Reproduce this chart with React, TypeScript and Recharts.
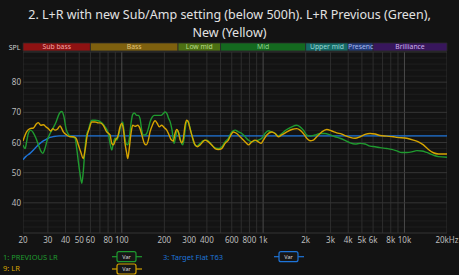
import React from 'react';
import { LineChart, Line, XAxis, YAxis, CartesianGrid, ReferenceArea, ReferenceLine } from 'recharts';

// Previous L+R measurement (green)
const previousFreq = [20, 20.7, 21.2, 21.8, 22.7, 23.6, 24.7, 25.7, 26.7, 27.6, 28.6, 29.7, 31.1, 32.5, 34.3, 36.1, 37.6, 39.0, 40.3, 41.9, 44.2, 46.7, 48.0, 49.3, 50.6, 52.1, 53.4, 54.9, 56.4, 58.0, 61.3, 64.7, 68.2, 72.1, 76.1, 80.3, 82.6, 84.9, 87.1, 89.6, 92.1, 95.6, 98.8, 101.5, 104.2, 107.1, 110.2, 113.1, 116.2, 119.5, 122.6, 127.5, 130.9, 134.6, 138.4, 142, 146, 150.1, 154.1, 158.4, 164.5, 169.9, 181.4, 189.5, 196.8, 202.3, 209, 213.5, 219.5, 226.8, 234.3, 242, 247.2, 254.1, 262.6, 270, 277.1, 284.9, 292.9, 300.6, 312.6, 324.6, 339.2, 357.9, 377.6, 399.1, 421.1, 444.4, 482.3, 509.7, 537.9, 567.6, 599.9, 633.1, 668.1, 706.1, 745.1, 786.3, 831, 877, 925.5, 978.2, 1032, 1089, 1151, 1215, 1282, 1355, 1470, 1595, 1730, 1825, 1926, 2036, 2149, 2332, 2529, 2744, 2977, 3229, 3503, 3800, 4123, 4473, 4853, 5265, 5712, 6197, 6722, 7499, 8136, 8826, 9576, 10389, 11271, 12228, 13266, 14392, 16026, 17388, 20000];
const previousSpl = [59.2, 58, 60.2, 63, 64.1, 63.3, 61.4, 59.2, 57.2, 56.4, 58, 60.8, 63, 64.6, 66.8, 69.6, 70.3, 68.5, 64.6, 62.7, 61.9, 61.4, 58, 53.6, 49.8, 46.5, 50.3, 58, 62.5, 64.1, 67.4, 67.4, 67.2, 66.5, 65.2, 63, 59.7, 57.5, 59.7, 61.4, 60.8, 63, 65.7, 66.8, 63, 59.7, 59.2, 61.4, 66.3, 69.3, 69.8, 69, 69, 67.9, 64.1, 62.5, 62.5, 63, 64.6, 66.8, 68.5, 69, 69, 69, 69.6, 70.1, 69.5, 68.2, 67, 64.1, 59.7, 62.5, 64.1, 63, 60.2, 59.2, 61.9, 66.3, 67.2, 65.7, 62.5, 59.7, 58.8, 59.7, 60.6, 60.8, 59.9, 58.6, 58, 58.6, 60.2, 61.4, 63.5, 64.1, 63.5, 63, 61.9, 60.8, 60.2, 60.6, 60.8, 61.4, 63, 63.9, 63.5, 63, 62.1, 63, 64.3, 65.2, 65.7, 65.2, 64.1, 62.5, 62.1, 62.5, 63, 63, 62.5, 61.9, 61.4, 60.7, 59.9, 59.5, 59.7, 59.5, 58.8, 58.6, 58.3, 58, 57.7, 57.2, 56.7, 56.7, 56.9, 57.3, 57.2, 56.7, 55.8, 55.3, 55.1];

// New L+R measurement (yellow)
const newFreq = [20, 21.2, 22.4, 23.7, 25.0, 25.7, 26.7, 27.9, 29.0, 30.2, 31.4, 32.5, 33.7, 35.0, 36.6, 37.6, 38.6, 40.8, 43.0, 45.4, 47.5, 49.3, 51.2, 53.4, 55.2, 57.0, 58.9, 61.3, 64.7, 68.2, 70.1, 74.0, 78.2, 82.6, 84.9, 87.1, 90.6, 93.6, 97.2, 99.9, 102.5, 105.4, 108.4, 110.2, 112.6, 116.2, 119.5, 124.1, 129.7, 134.6, 139.8, 144.4, 148.5, 154.1, 158.4, 164.5, 171.9, 178.3, 184.2, 191.7, 200, 208, 216, 223.1, 231.6, 238.1, 244.8, 251.3, 258.3, 265.6, 272.7, 280.3, 288, 295.6, 303.9, 317.8, 330, 342.5, 357.9, 374, 388.3, 409.6, 433, 456.9, 482.3, 509.7, 537.9, 567.6, 583.4, 615.6, 650.6, 686.8, 724.6, 766.1, 786.3, 831, 877, 925.5, 967.2, 1004, 1061, 1151, 1215, 1282, 1355, 1470, 1595, 1730, 1825, 1926, 2036, 2149, 2268, 2397, 2600, 2820, 3059, 3319, 3601, 3800, 4123, 4473, 4853, 5265, 5712, 6197, 6722, 7499, 8350, 8873, 10389, 11565, 12545, 13615, 14770, 16026, 17388, 20000];
const newSpl = [60.5, 63.5, 64.6, 64.8, 66.3, 66.6, 65.7, 65.9, 65.2, 64.6, 63.8, 64.6, 64.1, 64.4, 65.5, 64.6, 63.5, 62.5, 61.9, 61.9, 61.4, 59.2, 56.9, 54.7, 58, 62.5, 64.6, 66.8, 66.8, 66.5, 66.5, 65.7, 63.5, 62.5, 59.7, 59.2, 61, 61.9, 65.2, 66.3, 64.6, 59.7, 56.4, 54.7, 57.5, 63, 65.7, 65.4, 65.7, 64.6, 61.9, 59.7, 59.2, 60.8, 63.5, 65.7, 67.2, 66.3, 65.2, 65.7, 64.9, 64.1, 62.5, 61, 60.5, 63, 64.3, 63.5, 61, 59.9, 61.4, 65.7, 67.4, 66.8, 64.6, 61.4, 59.2, 58.6, 59.2, 60.2, 60.8, 60.2, 59.2, 58, 57.7, 58, 59.7, 60.8, 61.9, 63.5, 63, 61.9, 60.8, 59.7, 59.2, 60.2, 60.8, 60.2, 59.7, 60.8, 62.5, 63.5, 63, 61.9, 62.5, 63.5, 64.3, 64.6, 64.1, 63, 61.4, 60.6, 60.8, 61.9, 63.5, 64.3, 63.8, 63.2, 62.8, 62.3, 61.7, 61.4, 61.9, 62.7, 63, 62.8, 62.3, 62.1, 61.9, 61.7, 61.4, 60.8, 60.2, 59.2, 57.7, 56.6, 56.2, 56.2];

// Target curve "Flat T63" (blue)
const targetFreq = [20, 21, 22.4, 24, 25, 26.4, 28, 29.5, 31, 33, 36, 40, 20000];
const targetSpl = [54.3, 55.4, 56.4, 57.8, 58.7, 59.7, 60.6, 61.2, 61.7, 62.0, 62.2, 62.2, 62.2];

// Frequency grid and axis labels
const gridFreqs = [20, 30, 40, 50, 60, 70, 80, 90, 100, 200, 300, 400, 500, 600, 700, 800, 900, 1000, 2000, 3000, 4000, 5000, 6000, 7000, 8000, 9000, 10000, 20000];
const majorFreqs = [100, 1000, 10000];
const freqLabelValues = [20, 30, 40, 50, 60, 80, 100, 200, 300, 400, 600, 800, 1000, 2000, 3000, 4000, 5000, 6000, 8000, 10000, 20000];
const freqLabelTexts = ['20', '30', '40', '50', '60', '80', '100', '200', '300', '400', '600', '800', '1k', '2k', '3k', '4k', '5k', '6k', '8k', '10k', '20kHz'];

// SPL grid (2 dB minor, 10 dB major) and labels
const splMinor = [32, 34, 36, 38, 42, 44, 46, 48, 52, 54, 56, 58, 62, 64, 66, 68, 72, 74, 76, 78, 82, 84, 86, 88];
const splMajor = [30, 40, 50, 60, 70, 80, 90];
const splLabels = [40, 50, 60, 70, 80];

// Frequency bands shown above the plot
const bandNames = ['Sub bass', 'Bass', 'Low mid', 'Mid', 'Upper mid', 'Presenc', 'Brilliance'];
const bandEdges = [20, 60, 250, 500, 2000, 4000, 6000, 20000];
const bandFills = ['#8e1212', '#7e600e', '#4c7012', '#14691f', '#146a66', '#213a78', '#38165c'];
const bandTextColors = ['#f0a6a6', '#e0c47a', '#b8dc8a', '#8fd68f', '#98d8d4', '#a8b8ec', '#cdb0ec'];

const toPoints = (fs: number[], vs: number[]) => fs.map((f, i) => ({ f, spl: vs[i] }));
const previousPoints = toPoints(previousFreq, previousSpl);
const newPoints = toPoints(newFreq, newSpl);
const targetPoints = toPoints(targetFreq, targetSpl);

const FONT = "'Noto Sans', 'Open Sans', sans-serif";
const BG = '#131313';

const XTick = (props: any) => {
  const { x, y, payload } = props;
  const idx = freqLabelValues.indexOf(payload.value);
  if (idx < 0) return <g />;
  return (
    <text x={x} y={y} dy={6} textAnchor="middle" fill="#bdbdbd" fontSize={8} fontFamily={FONT}>
      {freqLabelTexts[idx]}
    </text>
  );
};

const YTick = (props: any) => {
  const { x, y, payload } = props;
  if (!splLabels.includes(payload.value)) return <g />;
  return (
    <text x={x} y={y} dy={3} textAnchor="end" fill="#bdbdbd" fontSize={8} fontFamily={FONT}>
      {payload.value}
    </text>
  );
};

const VarBox = ({ x, y, color }: { x: number; y: number; color: string }) => (
  <g>
    <line x1={x - 5} y1={y + 5} x2={x + 25} y2={y + 5} stroke={color} strokeWidth={1.2} />
    <rect x={x} y={y} width={19} height={10} rx={2} fill="#161616" stroke={color} strokeWidth={1.2} />
    <text x={x + 9.5} y={y + 7.3} textAnchor="middle" fill="#d8d8d8" fontSize={5.5} fontFamily={FONT}>
      Var
    </text>
  </g>
);

export default function App() {
  const allSplTicks = [...splMajor, ...splMinor].sort((a, b) => a - b);
  return (
    <div style={{ position: 'absolute', left: 0, top: 0, width: 459, height: 275, background: BG, overflow: 'hidden' }}>
      <svg width={459} height={275} style={{ position: 'absolute', left: 0, top: 0 }}>
        <text x={229.5} y={18.5} textAnchor="middle" fill="#e2e2e2" fontSize={12.5} fontFamily={FONT}>
          2. L+R with new Sub/Amp setting (below 500h). L+R Previous (Green),
        </text>
        <text x={229.5} y={36.5} textAnchor="middle" fill="#e2e2e2" fontSize={12.5} fontFamily={FONT}>
          New (Yellow)
        </text>
        <text x={20.5} y={49.5} textAnchor="end" fill="#cfcfcf" fontSize={7} fontFamily={FONT}>
          SPL
        </text>
        <text x={3} y={259.5} fill="#1f9a2f" fontSize={7.5} fontFamily={FONT}>1: PREVIOUS LR</text>
        <text x={3} y={271} fill="#d6a400" fontSize={7.5} fontFamily={FONT}>9: LR</text>
        <text x={163} y={259.5} fill="#1e74d8" fontSize={7.5} fontFamily={FONT}>3: Target Flat T63</text>
        <VarBox x={117} y={251.7} color="#1f9a2f" />
        <VarBox x={117} y={264} color="#d6a400" />
        <VarBox x={279} y={251.7} color="#1e74d8" />
      </svg>
      <div style={{ position: 'absolute', left: 0, top: 0 }}>
        <LineChart width={459} height={275} margin={{ top: 52, right: 12, bottom: 22, left: 0 }}>
          <CartesianGrid stroke="#1f1f1f" strokeWidth={1} vertical={false} horizontalValues={splMinor} />
          {gridFreqs.map((f) => (
            <ReferenceLine key={'v' + f} x={f} stroke={majorFreqs.includes(f) ? '#4a4a4a' : '#2e2e2e'} strokeWidth={1} ifOverflow="hidden" />
          ))}
          {splMajor.map((v) => (
            <ReferenceLine key={'h' + v} y={v} stroke="#353535" strokeWidth={1} />
          ))}
          <XAxis
            dataKey="f"
            type="number"
            scale="log"
            domain={[20, 20000]}
            allowDataOverflow
            ticks={gridFreqs}
            interval={0}
            tick={<XTick />}
            tickLine={false}
            axisLine={false}
            tickSize={0}
            tickMargin={4}
            height={20}
          />
          <YAxis
            type="number"
            domain={[30, 90]}
            ticks={allSplTicks}
            interval={0}
            tick={<YTick />}
            tickLine={false}
            axisLine={false}
            tickSize={0}
            tickMargin={2}
            width={23}
            allowDataOverflow
          />
          {bandNames.map((name, i) => (
            <ReferenceArea
              key={name}
              x1={bandEdges[i]}
              x2={bandEdges[i + 1]}
              y1={90.35}
              y2={93.0}
              ifOverflow="visible"
              fill={bandFills[i]}
              fillOpacity={1}
              stroke="#2a2a2a"
              strokeWidth={0.8}
              label={{ value: name, position: 'center', fill: bandTextColors[i], fontSize: 6.8, fontFamily: FONT }}
            />
          ))}
          <Line data={targetPoints} dataKey="spl" type="monotone" stroke="#1e74d8" strokeWidth={1.4} dot={false} isAnimationActive={false} />
          <Line data={previousPoints} dataKey="spl" type="monotone" stroke="#1f9a2f" strokeWidth={1.4} dot={false} isAnimationActive={false} />
          <Line data={newPoints} dataKey="spl" type="monotone" stroke="#d6a400" strokeWidth={1.4} dot={false} isAnimationActive={false} />
        </LineChart>
      </div>
    </div>
  );
}
